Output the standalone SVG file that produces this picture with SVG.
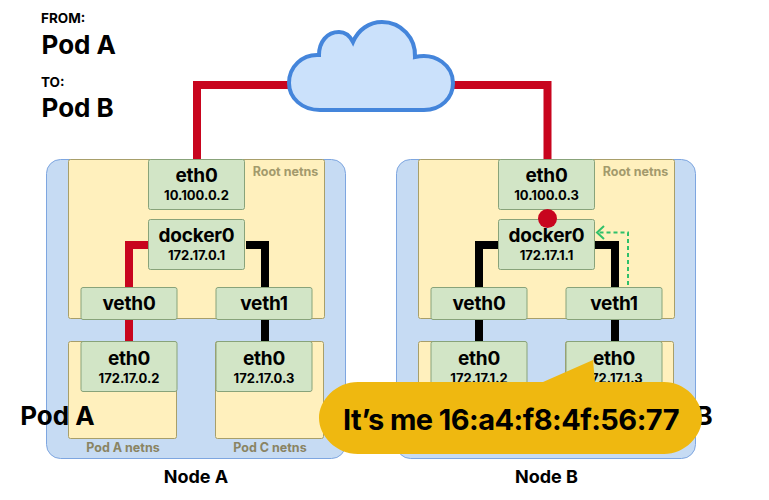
<svg xmlns="http://www.w3.org/2000/svg" width="769" height="500" viewBox="0 0 769 500">
<style>
text{font-family:Inter,"Liberation Sans",sans-serif;font-weight:700;fill:#000;text-anchor:middle}
.node{fill:#c6dbf3;stroke:#7ea6e0;stroke-width:1}
.ns{fill:#fff0bd;stroke:#a89f6a;stroke-width:1}
.box{fill:#d2e5c6;stroke:#88a37a;stroke-width:1}
.big{font-size:19px;letter-spacing:-.2px}
.mid{font-size:13px}
.ns-label{font-size:12.500px;fill:#a39a6c}
.ns-dark{font-size:12.500px;fill:#8a8463}
.title{font-size:18px}
.head{font-size:26px;text-anchor:start}
.small{font-size:13.500px;text-anchor:start}
.wire{fill:none;stroke-width:8}
.red{stroke:#c8051e}
.blk{stroke:#000}
</style>
<rect width="769" height="500" fill="#fff"/>
<g id="heading">
<text class="small" x="41" y="23">FROM:</text>
<text class="head" x="41.500" y="54">Pod A</text>
<text class="small" x="41" y="87">TO:</text>
<text class="head" x="41.500" y="117">Pod B</text>
</g>
<g id="node-a-bg">
<rect class="node" x="46.500" y="159.500" width="299" height="299" rx="14"/>
<rect class="ns" x="68.500" y="159.500" width="256" height="159" rx="2"/>
<rect class="ns" x="68.500" y="341.500" width="108" height="97" rx="2"/>
<rect class="ns" x="215.500" y="341.500" width="108" height="97" rx="2"/>
</g>
<g id="node-b-bg">
<rect class="node" x="396.500" y="159.500" width="299" height="299" rx="14"/>
<rect class="ns" x="418.500" y="159.500" width="256" height="159" rx="2"/>
<rect class="ns" x="418.500" y="341.500" width="108" height="97" rx="2"/>
<rect class="ns" x="565.500" y="341.500" width="108" height="97" rx="2"/>
</g>
<g id="connectors">
<path class="wire red" d="M197 159V85H289"/>
<path class="wire red" d="M453 85H547.500V159"/>
<path class="wire red" d="M148 245H129V287"/>
<path class="wire red" d="M129 319V342"/>
<path class="wire blk" d="M246 245H265V287"/>
<path class="wire blk" d="M265 319V342"/>
<path class="wire blk" d="M498 245H479V287"/>
<path class="wire blk" d="M479 319V342"/>
<path class="wire blk" d="M594 245H615V287"/>
<path class="wire blk" d="M615 319V342"/>
<path fill="none" stroke="#2fc06a" stroke-width="2" stroke-dasharray="4 3" d="M628 285V232.500H598"/>
<path fill="none" stroke="#2fc06a" stroke-width="2" d="M604 226L597 232.500L604 239"/>
</g>
<g id="cloud">
<path fill="#cbe1fb" stroke="#4485db" stroke-width="4" d="M320 110C302 110 289 98 289 83C289 67 302 54 319 55C319 42 327 32 339 32C345 32 350 36 353 42C358 30 369 22 382 22C401 22 416 38 415 57C436 52 453 66 453 83C453 98 441 110 424 110Z"/>
</g>
<g id="eth0-a"><rect class="box" x="148.500" y="159.500" width="96" height="50" rx="2"/><text class="big" x="196.500" y="182">eth0</text><text class="mid" x="196.500" y="200">10.100.0.2</text></g>
<g id="docker0-a"><rect class="box" x="148.500" y="219.500" width="96" height="50" rx="2"/><text class="big" x="196.500" y="242">docker0</text><text class="mid" x="196.500" y="260">172.17.0.1</text></g>
<g id="veth0-a"><rect class="box" x="81" y="287.500" width="96" height="32" rx="2"/><text class="big" x="129" y="309.500">veth0</text></g>
<g id="veth1-a"><rect class="box" x="216" y="287.500" width="96" height="32" rx="2"/><text class="big" x="264" y="309.500">veth1</text></g>
<g id="pod-a-eth0"><rect class="box" x="81" y="341.500" width="96" height="50" rx="2"/><text class="big" x="129" y="365">eth0</text><text class="mid" x="129" y="382.500">172.17.0.2</text></g>
<g id="pod-c-eth0"><rect class="box" x="216" y="341.500" width="96" height="50" rx="2"/><text class="big" x="264" y="365">eth0</text><text class="mid" x="264" y="382.500">172.17.0.3</text></g>
<g id="eth0-b"><rect class="box" x="498.500" y="159.500" width="96" height="50" rx="2"/><text class="big" x="546.500" y="182">eth0</text><text class="mid" x="546.500" y="200">10.100.0.3</text></g>
<g id="docker0-b"><rect class="box" x="498.500" y="219.500" width="96" height="50" rx="2"/><text class="big" x="546.500" y="242">docker0</text><text class="mid" x="546.500" y="260">172.17.1.1</text></g>
<g id="veth0-b"><rect class="box" x="431" y="287.500" width="96" height="32" rx="2"/><text class="big" x="479" y="309.500">veth0</text></g>
<g id="veth1-b"><rect class="box" x="566" y="287.500" width="96" height="32" rx="2"/><text class="big" x="614" y="309.500">veth1</text></g>
<g id="pod-b1-eth0"><rect class="box" x="431" y="341.500" width="96" height="50" rx="2"/><text class="big" x="479" y="365">eth0</text><text class="mid" x="479" y="382.500">172.17.1.2</text></g>
<g id="pod-b2-eth0"><rect class="box" x="566" y="341.500" width="96" height="50" rx="2"/><text class="big" x="614" y="365">eth0</text><text class="mid" x="614" y="382.500">172.17.1.3</text></g>
<g id="labels">
<text class="ns-label" x="285.500" y="175.500">Root netns</text>
<text class="ns-label" x="635.500" y="175.500">Root netns</text>
<text class="ns-dark" x="123" y="452">Pod A netns</text>
<text class="ns-dark" x="270" y="452">Pod C netns</text>
<text class="title" x="196" y="483">Node A</text>
<text class="title" x="546.500" y="483">Node B</text>
<text x="57.500" y="425" font-size="26">Pod A</text>
<text x="704" y="425" font-size="26">B</text>
</g>
<circle id="packet" cx="547.500" cy="218.500" r="9.500" fill="#c8051e"/>
<g id="bubble">
<path fill="#efb810" d="M358 382H543L593 360L595 382H664C685 382 702 400 702 418C702 436 685 454 664 454H358C336 454 319 436 319 418C319 400 336 382 358 382Z"/>
<text x="511" y="430" font-size="29" letter-spacing="-.55">It’s me 16:a4:f8:4f:56:77</text>
</g>
</svg>
